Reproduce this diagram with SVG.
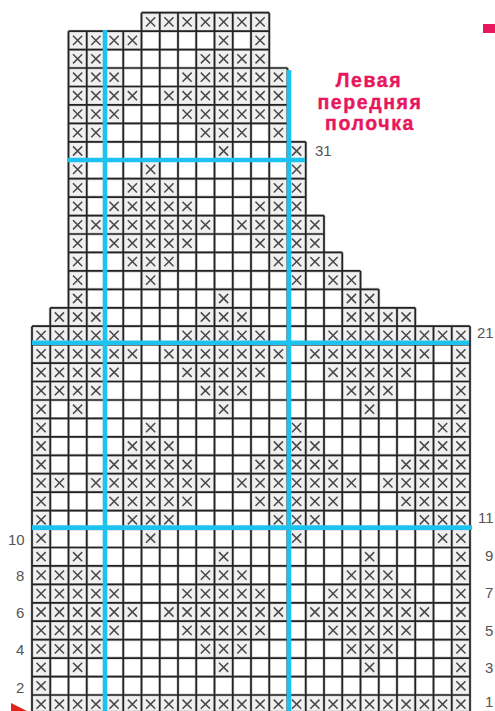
<svg xmlns="http://www.w3.org/2000/svg" xmlns:xlink="http://www.w3.org/1999/xlink" width="495" height="711" viewBox="0 0 495 711">
<style>
.grid{fill:none;stroke:#232326;stroke-width:1.7}
.halo{fill:none;stroke:#9a9a9a;stroke-width:3;opacity:.5}
.xm{fill:none;stroke:#474747;stroke-width:1.5}
.xb{fill:#f0f0f0}
.blue{fill:none;stroke:#1cc3ee;stroke-width:4.6}
.num{font-family:"Liberation Sans",Arial,sans-serif;font-size:15px;fill:#555}
.title{font-family:"Liberation Sans",Arial,sans-serif;font-size:19.5px;font-weight:bold;fill:#e8175d;stroke:#e8175d;stroke-width:.4;text-anchor:middle;letter-spacing:1.6px}
</style>
<defs>
<g id="x"><rect class="xb" x="-7.5" y="-7.5" width="15" height="15"/><path class="xm" d="M-4.6-4.6L4.6 4.6M4.6-4.6L-4.6 4.6"/></g>
<use id="c0" href="#x" x="41.1"/><use id="c1" href="#x" x="59.4"/><use id="c2" href="#x" x="77.6"/><use id="c3" href="#x" x="95.9"/>
<use id="c4" href="#x" x="114.1"/><use id="c5" href="#x" x="132.4"/><use id="c6" href="#x" x="150.6"/><use id="c7" href="#x" x="168.9"/>
<use id="c8" href="#x" x="187.1"/><use id="c9" href="#x" x="205.4"/><use id="c10" href="#x" x="223.6"/><use id="c11" href="#x" x="241.9"/>
<use id="c12" href="#x" x="260.1"/><use id="c13" href="#x" x="278.4"/><use id="c14" href="#x" x="296.6"/><use id="c15" href="#x" x="314.9"/>
<use id="c16" href="#x" x="333.1"/><use id="c17" href="#x" x="351.4"/><use id="c18" href="#x" x="369.6"/><use id="c19" href="#x" x="387.9"/>
<use id="c20" href="#x" x="406.1"/><use id="c21" href="#x" x="424.4"/><use id="c22" href="#x" x="442.6"/><use id="c23" href="#x" x="460.9"/>
<path id="gridlines" d="M141.5 12.7H269.25M68.5 31.2H269.25M68.5 49.6H269.25M68.5 68H287.5M68.5 86.5H287.5M68.5 104.9H287.5M68.5 123.4H287.5M68.5 141.8H305.75M68.5 160.2H305.75M68.5 178.7H305.75M68.5 197.1H305.75M68.5 215.6H324M68.5 234H324M68.5 252.4H342.25M68.5 270.9H360.5M68.5 289.3H378.75M50.25 307.8H415.25M32 326.2H470M32 344.6H470M32 363.1H470M32 381.5H470M32 400H470M32 418.4H470M32 436.8H470M32 455.3H470M32 473.7H470M32 492.2H470M32 510.6H470M32 529H470M32 547.5H470M32 565.9H470M32 584.4H470M32 602.8H470M32 621.2H470M32 639.7H470M32 658.1H470M32 676.6H470M32 695H470M32 712H470M32 326.2V711M50.25 307.8V711M68.5 31.2V711M86.75 31.2V711M105 31.2V711M123.25 31.2V711M141.5 12.7V711M159.75 12.7V711M178 12.7V711M196.25 12.7V711M214.5 12.7V711M232.75 12.7V711M251 12.7V711M269.25 12.7V711M287.5 68V711M305.75 141.8V711M324 215.6V711M342.25 252.4V711M360.5 270.9V711M378.75 289.3V711M397 307.8V711M415.25 307.8V711M433.5 326.2V711M451.75 326.2V711M470 326.2V711"/>
</defs>
<g id="marks">
<g transform="translate(0,21.9)"><use href="#c6"/><use href="#c7"/><use href="#c8"/><use href="#c9"/><use href="#c10"/><use href="#c11"/><use href="#c12"/></g>
<g transform="translate(0,40.4)"><use href="#c2"/><use href="#c3"/><use href="#c4"/><use href="#c5"/><use href="#c10"/><use href="#c12"/></g>
<g transform="translate(0,58.8)"><use href="#c2"/><use href="#c3"/><use href="#c9"/><use href="#c10"/><use href="#c11"/><use href="#c12"/></g>
<g transform="translate(0,77.2)"><use href="#c2"/><use href="#c3"/><use href="#c4"/><use href="#c8"/><use href="#c9"/><use href="#c10"/><use href="#c11"/><use href="#c12"/><use href="#c13"/></g>
<g transform="translate(0,95.7)"><use href="#c2"/><use href="#c3"/><use href="#c4"/><use href="#c5"/><use href="#c7"/><use href="#c8"/><use href="#c9"/><use href="#c10"/><use href="#c11"/><use href="#c12"/><use href="#c13"/></g>
<g transform="translate(0,114.1)"><use href="#c2"/><use href="#c3"/><use href="#c4"/><use href="#c8"/><use href="#c9"/><use href="#c10"/><use href="#c11"/><use href="#c12"/><use href="#c13"/></g>
<g transform="translate(0,132.6)"><use href="#c2"/><use href="#c3"/><use href="#c9"/><use href="#c10"/><use href="#c11"/><use href="#c13"/></g>
<g transform="translate(0,151)"><use href="#c2"/><use href="#c10"/><use href="#c14"/></g>
<g transform="translate(0,169.4)"><use href="#c2"/><use href="#c6"/><use href="#c14"/></g>
<g transform="translate(0,187.9)"><use href="#c2"/><use href="#c5"/><use href="#c6"/><use href="#c7"/><use href="#c13"/><use href="#c14"/></g>
<g transform="translate(0,206.3)"><use href="#c2"/><use href="#c4"/><use href="#c5"/><use href="#c6"/><use href="#c7"/><use href="#c8"/><use href="#c12"/><use href="#c13"/><use href="#c14"/></g>
<g transform="translate(0,224.8)"><use href="#c2"/><use href="#c3"/><use href="#c4"/><use href="#c5"/><use href="#c6"/><use href="#c7"/><use href="#c8"/><use href="#c9"/><use href="#c11"/><use href="#c12"/><use href="#c13"/><use href="#c14"/><use href="#c15"/></g>
<g transform="translate(0,243.2)"><use href="#c2"/><use href="#c4"/><use href="#c5"/><use href="#c6"/><use href="#c7"/><use href="#c8"/><use href="#c12"/><use href="#c13"/><use href="#c14"/><use href="#c15"/></g>
<g transform="translate(0,261.6)"><use href="#c2"/><use href="#c5"/><use href="#c6"/><use href="#c7"/><use href="#c13"/><use href="#c14"/><use href="#c15"/><use href="#c16"/></g>
<g transform="translate(0,280.1)"><use href="#c2"/><use href="#c6"/><use href="#c14"/><use href="#c16"/><use href="#c17"/></g>
<g transform="translate(0,298.5)"><use href="#c2"/><use href="#c10"/><use href="#c17"/><use href="#c18"/></g>
<g transform="translate(0,317)"><use href="#c1"/><use href="#c2"/><use href="#c3"/><use href="#c9"/><use href="#c10"/><use href="#c11"/><use href="#c17"/><use href="#c18"/><use href="#c19"/><use href="#c20"/></g>
<g transform="translate(0,335.4)"><use href="#c0"/><use href="#c1"/><use href="#c2"/><use href="#c3"/><use href="#c4"/><use href="#c8"/><use href="#c9"/><use href="#c10"/><use href="#c11"/><use href="#c12"/><use href="#c16"/><use href="#c17"/><use href="#c18"/><use href="#c19"/><use href="#c20"/><use href="#c21"/><use href="#c22"/><use href="#c23"/></g>
<g transform="translate(0,353.8)"><use href="#c0"/><use href="#c1"/><use href="#c2"/><use href="#c3"/><use href="#c4"/><use href="#c5"/><use href="#c7"/><use href="#c8"/><use href="#c9"/><use href="#c10"/><use href="#c11"/><use href="#c12"/><use href="#c13"/><use href="#c15"/><use href="#c16"/><use href="#c17"/><use href="#c18"/><use href="#c19"/><use href="#c20"/><use href="#c21"/><use href="#c23"/></g>
<g transform="translate(0,372.3)"><use href="#c0"/><use href="#c1"/><use href="#c2"/><use href="#c3"/><use href="#c4"/><use href="#c8"/><use href="#c9"/><use href="#c10"/><use href="#c11"/><use href="#c12"/><use href="#c16"/><use href="#c17"/><use href="#c18"/><use href="#c19"/><use href="#c20"/><use href="#c23"/></g>
<g transform="translate(0,390.7)"><use href="#c0"/><use href="#c1"/><use href="#c2"/><use href="#c3"/><use href="#c9"/><use href="#c10"/><use href="#c11"/><use href="#c17"/><use href="#c18"/><use href="#c19"/><use href="#c23"/></g>
<g transform="translate(0,409.2)"><use href="#c0"/><use href="#c2"/><use href="#c10"/><use href="#c18"/><use href="#c23"/></g>
<g transform="translate(0,427.6)"><use href="#c0"/><use href="#c6"/><use href="#c14"/><use href="#c22"/><use href="#c23"/></g>
<g transform="translate(0,446)"><use href="#c0"/><use href="#c5"/><use href="#c6"/><use href="#c7"/><use href="#c13"/><use href="#c14"/><use href="#c15"/><use href="#c21"/><use href="#c22"/><use href="#c23"/></g>
<g transform="translate(0,464.5)"><use href="#c0"/><use href="#c4"/><use href="#c5"/><use href="#c6"/><use href="#c7"/><use href="#c8"/><use href="#c12"/><use href="#c13"/><use href="#c14"/><use href="#c15"/><use href="#c16"/><use href="#c20"/><use href="#c21"/><use href="#c22"/><use href="#c23"/></g>
<g transform="translate(0,482.9)"><use href="#c0"/><use href="#c1"/><use href="#c3"/><use href="#c4"/><use href="#c5"/><use href="#c6"/><use href="#c7"/><use href="#c8"/><use href="#c9"/><use href="#c11"/><use href="#c12"/><use href="#c13"/><use href="#c14"/><use href="#c15"/><use href="#c16"/><use href="#c17"/><use href="#c19"/><use href="#c20"/><use href="#c21"/><use href="#c22"/><use href="#c23"/></g>
<g transform="translate(0,501.4)"><use href="#c0"/><use href="#c4"/><use href="#c5"/><use href="#c6"/><use href="#c7"/><use href="#c8"/><use href="#c12"/><use href="#c13"/><use href="#c14"/><use href="#c15"/><use href="#c16"/><use href="#c20"/><use href="#c21"/><use href="#c22"/><use href="#c23"/></g>
<g transform="translate(0,519.8)"><use href="#c0"/><use href="#c5"/><use href="#c6"/><use href="#c7"/><use href="#c13"/><use href="#c14"/><use href="#c15"/><use href="#c21"/><use href="#c22"/><use href="#c23"/></g>
<g transform="translate(0,538.2)"><use href="#c0"/><use href="#c6"/><use href="#c14"/><use href="#c22"/><use href="#c23"/></g>
<g transform="translate(0,556.7)"><use href="#c0"/><use href="#c2"/><use href="#c10"/><use href="#c18"/><use href="#c23"/></g>
<g transform="translate(0,575.1)"><use href="#c0"/><use href="#c1"/><use href="#c2"/><use href="#c3"/><use href="#c9"/><use href="#c10"/><use href="#c11"/><use href="#c17"/><use href="#c18"/><use href="#c19"/><use href="#c23"/></g>
<g transform="translate(0,593.6)"><use href="#c0"/><use href="#c1"/><use href="#c2"/><use href="#c3"/><use href="#c4"/><use href="#c8"/><use href="#c9"/><use href="#c10"/><use href="#c11"/><use href="#c12"/><use href="#c16"/><use href="#c17"/><use href="#c18"/><use href="#c19"/><use href="#c20"/><use href="#c23"/></g>
<g transform="translate(0,612)"><use href="#c0"/><use href="#c1"/><use href="#c2"/><use href="#c3"/><use href="#c4"/><use href="#c5"/><use href="#c7"/><use href="#c8"/><use href="#c9"/><use href="#c10"/><use href="#c11"/><use href="#c12"/><use href="#c13"/><use href="#c15"/><use href="#c16"/><use href="#c17"/><use href="#c18"/><use href="#c19"/><use href="#c20"/><use href="#c21"/><use href="#c23"/></g>
<g transform="translate(0,630.4)"><use href="#c0"/><use href="#c1"/><use href="#c2"/><use href="#c3"/><use href="#c4"/><use href="#c8"/><use href="#c9"/><use href="#c10"/><use href="#c11"/><use href="#c12"/><use href="#c16"/><use href="#c17"/><use href="#c18"/><use href="#c19"/><use href="#c20"/><use href="#c23"/></g>
<g transform="translate(0,648.9)"><use href="#c0"/><use href="#c1"/><use href="#c2"/><use href="#c3"/><use href="#c9"/><use href="#c10"/><use href="#c11"/><use href="#c17"/><use href="#c18"/><use href="#c19"/><use href="#c23"/></g>
<g transform="translate(0,667.3)"><use href="#c0"/><use href="#c2"/><use href="#c10"/><use href="#c18"/><use href="#c23"/></g>
<g transform="translate(0,685.8)"><use href="#c0"/><use href="#c23"/></g>
<g transform="translate(0,704.2)"><use href="#c0"/><use href="#c1"/><use href="#c2"/><use href="#c3"/><use href="#c4"/><use href="#c5"/><use href="#c6"/><use href="#c7"/><use href="#c8"/><use href="#c9"/><use href="#c10"/><use href="#c11"/><use href="#c12"/><use href="#c13"/><use href="#c14"/><use href="#c15"/><use href="#c16"/><use href="#c17"/><use href="#c18"/><use href="#c19"/><use href="#c20"/><use href="#c21"/><use href="#c22"/><use href="#c23"/></g>
</g>
<g id="grid">
<use href="#gridlines" class="halo"/>
<use href="#gridlines" class="grid"/>
</g>
<g id="guides">
<path class="blue" d="M105 30V711M289 70V711M67 160H305M32 342.7H469M32 527.6H472"/>
</g>
<g id="labels">
<text class="num" x="315" y="156">31</text>
<text class="num" x="477" y="338">21</text>
<text class="num" x="478" y="523">11</text>
<text class="num" x="8" y="545">10</text>
<text class="num" x="485" y="561">9</text>
<text class="num" x="16" y="581">8</text>
<text class="num" x="485" y="598">7</text>
<text class="num" x="16" y="618">6</text>
<text class="num" x="485" y="636">5</text>
<text class="num" x="16" y="655">4</text>
<text class="num" x="485" y="673">3</text>
<text class="num" x="16" y="693">2</text>
<text class="num" x="485" y="707">1</text>
<text class="title" x="369" y="87">Левая</text>
<text class="title" x="370" y="109">передняя</text>
<text class="title" x="370" y="130">полочка</text>
</g>
<rect id="pink-mark" x="483" y="24" width="12" height="9" fill="#e8175d"/>
<polygon id="start-mark" points="11,703 27,711 11,711" fill="#e2231a"/>
</svg>
